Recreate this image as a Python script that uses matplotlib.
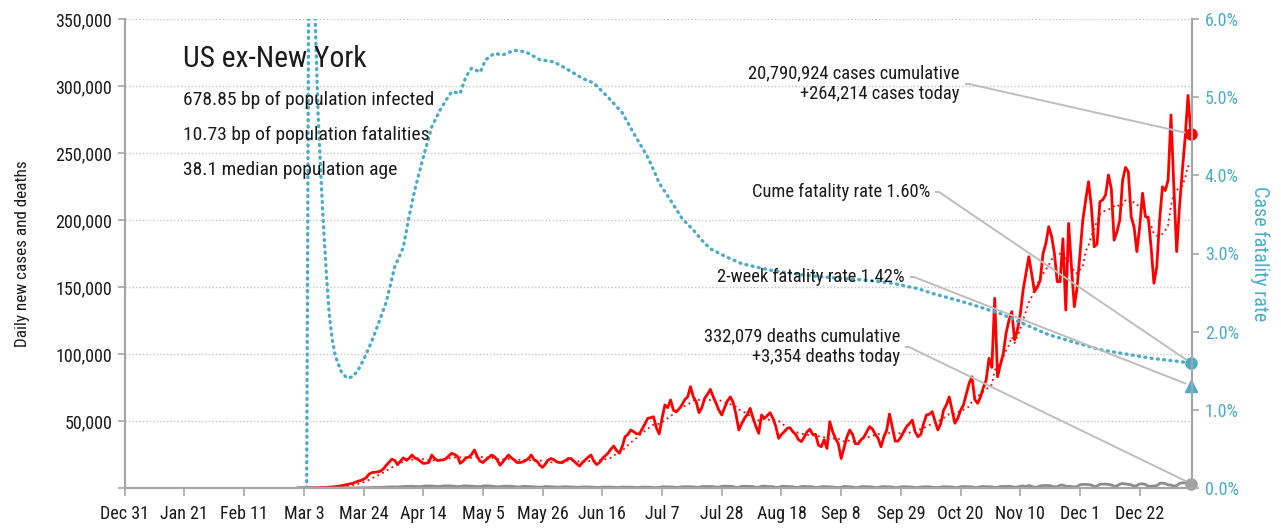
import numpy as np
import pandas as pd
import matplotlib
matplotlib.use('Agg')
import matplotlib.pyplot as plt
from matplotlib.ticker import FuncFormatter

plt.rcParams['font.family'] = ['Roboto Condensed', 'Archivo Narrow', 'PT Sans Narrow',
                               'Liberation Sans Narrow', 'DejaVu Sans']

# daily new cases (thousands), one row per week, starting Sun Mar 1 2020
series_start = '2020-03-01'
cases_k = [
    0.02, 0.03, 0.05, 0.06, 0.08, 0.1, 0.15,
    0.2, 0.3, 0.4, 0.5, 0.6, 0.8, 1.0,
    1.3, 1.6, 2.0, 2.5, 3.0, 3.4, 4.2,
    5.0, 5.6, 6.5, 7.8, 10.5, 11.5, 11.8,
    12.0, 12.6, 14.2, 17.0, 19.2, 21.5, 20.5,
    17.5, 20.0, 22.5, 21.0, 22.0, 24.6, 22.5,
    21.5, 20.0, 18.4, 18.5, 19.2, 24.6, 22.0,
    20.5, 20.8, 21.0, 22.0, 24.0, 25.9, 25.0,
    23.8, 18.4, 20.0, 22.5, 23.0, 25.0, 28.4,
    23.5, 20.0, 19.0, 21.0, 22.6, 24.6, 23.5,
    21.0, 17.0, 19.5, 22.0, 24.6, 22.5, 21.0,
    19.0, 19.0, 19.5, 20.5, 22.0, 24.6, 21.0,
    20.0, 17.0, 15.4, 18.0, 21.0, 22.0, 21.0,
    19.5, 19.0, 19.0, 20.5, 22.0, 22.0, 20.0,
    18.0, 16.4, 19.0, 21.0, 23.0, 24.6, 20.0,
    17.5, 19.0, 22.0, 24.0, 26.0, 29.0, 31.3,
    28.0, 26.0, 31.0, 38.3, 40.0, 43.3, 42.0,
    40.5, 40.3, 44.0, 48.0, 52.0, 52.5, 53.2,
    45.0, 40.3, 52.0, 62.0, 60.0, 65.7, 58.0,
    57.0, 59.0, 62.0, 66.0, 68.0, 75.6, 68.0,
    64.4, 56.2, 60.0, 67.0, 70.0, 73.6, 68.0,
    63.2, 58.0, 54.5, 60.0, 65.0, 68.0, 64.0,
    55.0, 43.3, 48.0, 52.0, 55.0, 59.5, 52.0,
    46.0, 40.8, 54.5, 52.0, 54.0, 56.2, 52.0,
    46.0, 37.0, 40.0, 42.0, 44.5, 45.0, 42.0,
    40.0, 36.0, 34.6, 38.0, 42.0, 43.8, 40.0,
    40.0, 32.0, 30.8, 36.0, 29.5, 49.5, 42.0,
    37.0, 33.0, 22.0, 30.0, 38.0, 43.3, 40.0,
    33.0, 33.0, 36.0, 38.0, 42.0, 45.8, 44.0,
    40.0, 37.0, 30.8, 38.0, 43.0, 55.2, 45.0,
    35.0, 35.0, 38.0, 42.0, 45.8, 48.0, 50.7,
    42.0, 38.3, 40.0, 48.0, 54.5, 55.0, 57.0,
    50.0, 43.3, 48.0, 58.0, 62.0, 68.0, 58.0,
    48.3, 52.0, 58.0, 62.0, 70.0, 78.0, 83.0,
    66.0, 63.2, 68.0, 75.0, 80.6, 96.8, 90.0,
    141.6, 83.0, 92.0, 100.0, 115.5, 125.0, 131.6,
    110.5, 118.0, 130.0, 147.8, 160.0, 172.6, 160.0,
    146.5, 150.0, 155.0, 175.0, 182.6, 195.0, 188.0,
    175.0, 154.0, 154.0, 186.0, 132.8, 197.5, 165.0,
    135.3, 150.0, 175.0, 200.0, 215.0, 228.6, 210.0,
    180.0, 182.0, 213.7, 215.0, 218.7, 233.6, 223.6,
    185.0, 191.3, 200.0, 229.9, 239.3, 236.0, 202.5,
    195.0, 176.4, 195.0, 220.0, 202.5, 202.0, 180.0,
    152.8, 165.0, 200.0, 224.8, 222.0, 229.9, 278.4,
    225.0, 176.4, 210.0, 237.0, 262.0, 293.0, 264.214,
]

# daily new deaths, same dates
deaths = [
    0, 1, 2, 2, 3, 2, 3,
    4, 5, 6, 8, 10, 12, 15,
    20, 25, 30, 40, 50, 60, 80,
    100, 130, 160, 200, 250, 300, 350,
    380, 450, 550, 650, 750, 850, 800,
    750, 900, 1100, 1200, 1250, 1300, 1200,
    1000, 1100, 1400, 1500, 1550, 1500, 1300,
    1100, 1200, 1500, 1550, 1600, 1500, 1300,
    1000, 1100, 1500, 1600, 1500, 1450, 1250,
    1000, 1000, 1500, 1600, 1500, 1400, 1100,
    900, 900, 1300, 1400, 1300, 1300, 1000,
    800, 800, 1200, 1200, 1100, 1050, 900,
    700, 600, 700, 1100, 1000, 950, 800,
    600, 650, 900, 950, 850, 800, 650,
    550, 550, 800, 800, 750, 700, 600,
    400, 450, 700, 700, 650, 650, 550,
    350, 400, 750, 650, 650, 650, 500,
    350, 400, 700, 650, 650, 600, 300,
    250, 400, 900, 850, 850, 800, 700,
    450, 500, 900, 950, 1000, 950, 850,
    550, 550, 1100, 1150, 1100, 1150, 1000,
    600, 650, 1200, 1400, 1300, 1250, 1100,
    500, 550, 1200, 1300, 1200, 1200, 1050,
    550, 550, 1300, 1400, 1150, 1100, 1000,
    500, 550, 1200, 1300, 1100, 1050, 900,
    450, 450, 1100, 1200, 1050, 1000, 850,
    400, 450, 1000, 1050, 950, 900, 750,
    400, 350, 450, 1200, 1000, 900, 750,
    350, 400, 1050, 1000, 950, 900, 700,
    300, 350, 900, 1050, 900, 900, 700,
    300, 350, 850, 1000, 900, 850, 700,
    350, 400, 700, 900, 950, 900, 650,
    350, 300, 700, 950, 850, 850, 750,
    400, 400, 900, 1100, 900, 950, 850,
    400, 450, 950, 1100, 950, 950, 850,
    450, 500, 1100, 1150, 1150, 1200, 1050,
    550, 700, 1400, 1500, 1100, 1800, 1300,
    600, 750, 1600, 1800, 1900, 1850, 1500,
    850, 900, 2050, 2200, 1200, 1300, 1100,
    800, 1100, 2500, 2700, 2700, 2500, 2200,
    1100, 1400, 2800, 2900, 2900, 2700, 2300,
    1250, 1600, 2900, 3400, 3000, 2700, 2400,
    1400, 1800, 3100, 3100, 2700, 1200, 1400,
    1500, 1700, 3500, 3600, 3300, 2300, 2200,
    1400, 1800, 3400, 3800, 3900, 3700, 3354,
]

# cumulative case fatality rate (%)
cfr_dates = ['2020-03-04', '2020-03-05', '2020-03-06', '2020-03-07', '2020-03-08',
             '2020-03-09', '2020-03-10', '2020-03-11', '2020-03-12', '2020-03-13',
             '2020-03-14', '2020-03-16', '2020-03-18', '2020-03-20', '2020-03-22',
             '2020-03-24', '2020-03-26', '2020-03-28', '2020-04-01', '2020-04-04',
             '2020-04-07', '2020-04-09', '2020-04-11', '2020-04-14', '2020-04-17',
             '2020-04-20', '2020-04-22', '2020-04-24', '2020-04-27', '2020-04-29',
             '2020-05-01', '2020-05-04', '2020-05-06', '2020-05-09', '2020-05-12',
             '2020-05-16', '2020-05-20', '2020-05-25', '2020-05-30', '2020-06-04',
             '2020-06-09', '2020-06-13', '2020-06-18', '2020-06-23', '2020-06-27',
             '2020-07-02', '2020-07-04', '2020-07-06', '2020-07-10', '2020-07-14',
             '2020-07-18', '2020-07-21', '2020-07-24', '2020-07-30', '2020-08-04',
             '2020-08-10', '2020-08-15', '2020-08-21', '2020-08-27', '2020-09-02',
             '2020-09-08', '2020-09-13', '2020-09-19', '2020-09-26', '2020-10-01',
             '2020-10-05', '2020-10-10', '2020-10-16', '2020-10-22', '2020-11-03',
             '2020-11-15', '2020-11-20', '2020-12-08', '2020-12-26', '2021-01-09']
cfr_pct = [0.0, 9.0, 7.5, 6.0, 4.8,
           4.0, 3.3, 2.7, 2.2, 1.9,
           1.7, 1.5, 1.41, 1.42, 1.5,
           1.64, 1.8, 1.98, 2.38, 2.83,
           3.08, 3.47, 3.81, 4.23, 4.62,
           4.84, 4.96, 5.07, 5.05, 5.26,
           5.37, 5.32, 5.48, 5.56, 5.54,
           5.60, 5.58, 5.48, 5.45, 5.35,
           5.24, 5.18, 5.00, 4.80, 4.54,
           4.23, 4.07, 3.90, 3.68, 3.45,
           3.30, 3.17, 3.06, 2.95, 2.87,
           2.82, 2.78, 2.75, 2.72, 2.70,
           2.68, 2.67, 2.65, 2.62, 2.58,
           2.55, 2.49, 2.43, 2.37, 2.23,
           2.04, 1.96, 1.77, 1.66, 1.60]

two_week_cfr_pct = 1.31
cum_cases = '20,790,924'
cum_deaths = '332,079'

title = 'US ex-New York'
facts = ['678.85 bp of population infected',
         '10.73 bp of population fatalities',
         '38.1 median population age']

teal = '#4bacc6'
red = '#ff0000'
gray = '#a6a6a6'
txt = '#1a1a1a'

dates = pd.date_range(series_start, periods=len(cases_k), freq='D')
cases = pd.Series(np.array(cases_k) * 1000, index=dates)
deaths = pd.Series(deaths, index=dates, dtype=float)
cases_ma = cases.rolling(7, min_periods=1).mean()
cfr_x = pd.to_datetime(cfr_dates)
last = dates[-1]

fig = plt.figure(figsize=(12.81, 5.29), dpi=100)
ax = fig.add_axes([124.7 / 1281, 41 / 529, 1067.6 / 1281, 469 / 529])
ax2 = ax.twinx()

ax.plot(dates, cases.values, color=red, lw=2.0, zorder=3)
ax.plot(dates, cases_ma.values, color=red, lw=1.3, linestyle=(0, (1, 2)), zorder=3)
ax.plot(dates, deaths.values, color='#8c8c8c', lw=2.0, zorder=3)
ax.plot([last], [cases.iloc[-1]], 'o', color=red, ms=8, zorder=5, clip_on=False)
ax.plot([last], [deaths.iloc[-1]], 'o', color='#a0a0a0', ms=8, zorder=5, clip_on=False)

ax2.plot(cfr_x, np.array(cfr_pct) / 100, color=teal, lw=2.4,
         linestyle=(0, (0.3, 1.6)), dash_capstyle='round')
ax2.plot([last], [cfr_pct[-1] / 100], 'o', color=teal, ms=8, clip_on=False)
ax2.plot([last], [two_week_cfr_pct / 100], '^', color=teal, ms=9, clip_on=False)

ax.set_xlim(pd.Timestamp('2019-12-31'), last + pd.Timedelta(hours=12))
ax.set_ylim(0, 350000)
ax2.set_ylim(0, 0.06)

xt = pd.date_range('2019-12-31', '2020-12-22', freq='21D')
ax.set_xticks(xt)
ax.set_xticklabels([f'{d:%b} {d.day}' for d in xt])
ax.set_yticks(np.arange(0, 350001, 50000))
ax.yaxis.set_major_formatter(FuncFormatter(lambda v, p: '' if v == 0 else f'{v:,.0f}'))
ax2.set_yticks(np.arange(0, 0.0601, 0.01))
ax2.yaxis.set_major_formatter(FuncFormatter(lambda v, p: f'{v * 100:.1f}%'))

ax.yaxis.grid(True, linestyle=(0, (1, 1.5)), color='#c4c4c4', lw=1)
ax.set_axisbelow(True)
for a in (ax, ax2):
    a.spines['top'].set_visible(False)
    for s in ('left', 'right', 'bottom'):
        a.spines[s].set_color(gray)
        a.spines[s].set_linewidth(1.5)
ax.tick_params(axis='x', length=6, width=1.2, color=gray, labelsize=13, labelcolor=txt, pad=6)
ax.tick_params(axis='y', length=5, width=1.2, color=gray, labelsize=13, labelcolor=txt, pad=4)
ax2.tick_params(axis='y', length=5, width=1.2, color=gray, labelsize=13, labelcolor=teal, pad=4)

ax.set_ylabel('Daily new cases and deaths', fontsize=12.3, color=txt, labelpad=18)
ax2.set_ylabel('Case fatality rate', fontsize=14.5, color=teal, rotation=270, labelpad=22)

fig.text(183 / 1281, 1 - 59 / 529, title, fontsize=21.3, color=txt, va='center', ha='left')
for i, f in enumerate(facts):
    fig.text(183 / 1281, 1 - (100 + 35 * i) / 529, f, fontsize=14, color=txt,
             va='center', ha='left')

line_kw = dict(arrowstyle='-', color='#bdbdbd', lw=1.4, shrinkA=2, shrinkB=4,
               relpos=(1, 0.5))


def callout(axis, text, y_val, tx, ty):
    axis.annotate(text, xy=(last, y_val), xycoords='data',
                  xytext=(tx, 529 - ty), textcoords='figure pixels',
                  ha='right', va='center', multialignment='right',
                  fontsize=13.3, color=txt, annotation_clip=False,
                  arrowprops=dict(connectionstyle='arc,angleA=0,armA=9,angleB=0,armB=0,rad=0',
                                  **line_kw))


callout(ax, f'{cum_cases} cases cumulative\n+{cases.iloc[-1]:,.0f} cases today',
        cases.iloc[-1], 960, 84)
callout(ax2, f'Cume fatality rate {cfr_pct[-1]:.2f}%', cfr_pct[-1] / 100, 930, 192)
callout(ax2, '2-week fatality rate 1.42%', two_week_cfr_pct / 100, 905, 277)
callout(ax, f'{cum_deaths} deaths cumulative\n+{deaths.iloc[-1]:,.0f} deaths today',
        deaths.iloc[-1], 900, 347)

fig.savefig('out.png', dpi=100)
